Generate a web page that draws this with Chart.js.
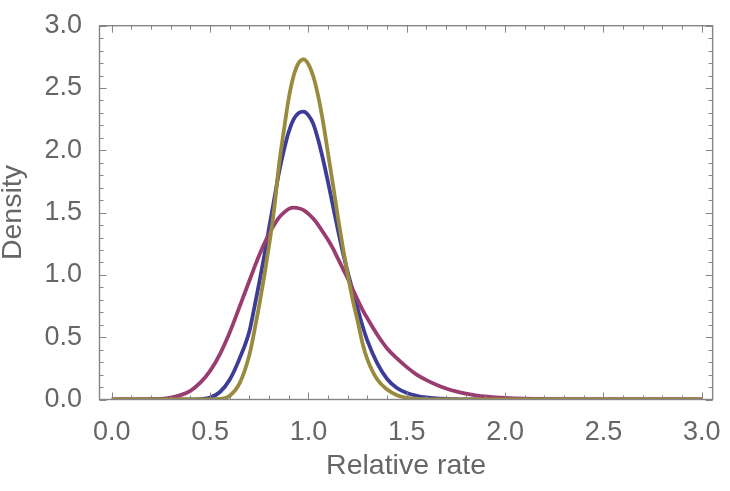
<!DOCTYPE html>
<html>
<head>
<meta charset="utf-8">
<script src="https://cdn.jsdelivr.net/npm/chart.js@4/dist/chart.umd.min.js"></script>
<style>
  html, body { margin: 0; padding: 0; background: #fff; }
  canvas { display: block; }
</style>
</head>
<body>
<canvas id="densityCanvas" width="730" height="491" style="width:730px;height:491px"></canvas>
<script>
const relativeRate = [
    0, 0.1, 0.2, 0.25, 0.3, 0.35, 0.4, 0.45, 0.5, 0.55, 0.6, 0.65,
    0.7, 0.725, 0.75, 0.775, 0.8, 0.825, 0.85, 0.875, 0.9, 0.925, 0.95, 0.975,
    1.0, 1.025, 1.05, 1.075, 1.1, 1.125, 1.15, 1.175, 1.2, 1.225, 1.25, 1.275,
    1.3, 1.35, 1.4, 1.45, 1.5, 1.55, 1.6, 1.65, 1.7, 1.75, 1.8, 1.85,
    1.9, 1.95, 2.0, 2.1, 2.2, 2.4, 2.6, 3.0
];

const blueDensity = [
    0, 0, 0, 0, 0, 0, 0, 0.003, 0.015, 0.06, 0.16, 0.33,
    0.55, 0.74, 0.94, 1.15, 1.38, 1.60, 1.82, 2.00, 2.15, 2.25, 2.30, 2.31,
    2.28, 2.21, 2.08, 1.92, 1.74, 1.55, 1.36, 1.18, 1.02, 0.87, 0.73, 0.59,
    0.47, 0.29, 0.165, 0.092, 0.052, 0.03, 0.016, 0.008, 0.004, 0.002, 0, 0,
    0, 0, 0, 0, 0, 0, 0, 0
];

const magentaDensity = [
    0, 0, 0.002, 0.005, 0.015, 0.035, 0.07, 0.135, 0.23, 0.365, 0.54, 0.745,
    0.955, 1.06, 1.16, 1.25, 1.33, 1.40, 1.46, 1.50, 1.53, 1.54, 1.535, 1.52,
    1.49, 1.45, 1.40, 1.34, 1.28, 1.21, 1.13, 1.05, 0.97, 0.885, 0.80, 0.72,
    0.65, 0.52, 0.41, 0.33, 0.26, 0.20, 0.155, 0.118, 0.088, 0.065, 0.047, 0.034,
    0.024, 0.017, 0.012, 0.006, 0.003, 0.001, 0, 0
];

const goldDensity = [
    0, 0, 0, 0, 0, 0, 0, 0, 0, 0.004, 0.03, 0.13,
    0.36, 0.55, 0.76, 0.99, 1.24, 1.52, 1.88, 2.16, 2.42, 2.60, 2.70, 2.73,
    2.69, 2.59, 2.43, 2.22, 1.97, 1.72, 1.46, 1.22, 1.00, 0.80, 0.63, 0.45,
    0.32, 0.16, 0.08, 0.035, 0.014, 0.005, 0.002, 0, 0, 0, 0, 0,
    0, 0, 0, 0, 0, 0, 0, 0
];

const xTickLabels = [0, 0.5, 1.0, 1.5, 2.0, 2.5, 3.0];
const yTickLabels = [0, 0.5, 1.0, 1.5, 2.0, 2.5, 3.0];

const TEXT_COLOR = '#666666';
const FRAME_COLOR = '#858585';
const FONT_FAMILY = "'Liberation Sans', Arial, sans-serif";
const LABEL_FONT = { family: FONT_FAMILY, size: 27 };
const TITLE_FONT = { family: FONT_FAMILY, size: 28.5, lineHeight: 1 };

function toPoints(values) {
    return relativeRate.map((x, i) => ({ x: x, y: values[i] }));
}

function makeDataset(label, values, color, order) {
    return {
        label: label,
        data: toPoints(values),
        showLine: true,
        borderColor: color,
        backgroundColor: color,
        borderWidth: 3.8,
        pointRadius: 0,
        cubicInterpolationMode: 'monotone',
        fill: false,
        order: order
    };
}

// frame with inward ticks on all four sides, like the original
const framePlugin = {
    id: 'frame',
    afterDatasetsDraw(chart) {
        const { ctx, chartArea: a, scales } = chart;
        const xs = scales.x, ys = scales.y;
        ctx.save();
        ctx.strokeStyle = FRAME_COLOR;
        ctx.lineWidth = 1.4;
        ctx.strokeRect(a.left, a.top, a.right - a.left, a.bottom - a.top);
        ctx.lineWidth = 1;
        ctx.beginPath();
        for (let i = 0; i <= 30; i++) {
            const v = i / 10;
            const len = i % 5 === 0 ? 7 : 4;
            const px = Math.round(xs.getPixelForValue(v)) + 0.5;
            ctx.moveTo(px, a.bottom); ctx.lineTo(px, a.bottom - len);
            ctx.moveTo(px, a.top); ctx.lineTo(px, a.top + len);
            const py = Math.round(ys.getPixelForValue(v)) + 0.5;
            ctx.moveTo(a.left, py); ctx.lineTo(a.left + len, py);
            ctx.moveTo(a.right, py); ctx.lineTo(a.right - len, py);
        }
        ctx.stroke();
        ctx.restore();
    }
};

const ctx = document.getElementById('densityCanvas').getContext('2d');

new Chart(ctx, {
    type: 'scatter',
    data: {
        datasets: [
            makeDataset('Blue', blueDensity, '#3d3d99', 2),
            makeDataset('Magenta', magentaDensity, '#993d71', 1),
            makeDataset('Gold', goldDensity, '#998b3d', 0)
        ]
    },
    options: {
        responsive: false,
        animation: false,
        layout: { padding: { top: 14, right: 7, left: 0, bottom: 0 } },
        plugins: { legend: { display: false }, tooltip: { enabled: false } },
        scales: {
            x: {
                type: 'linear',
                min: -0.0625,
                max: 3.055,
                grid: { display: false },
                border: { display: false },
                afterBuildTicks: s => { s.ticks = xTickLabels.map(v => ({ value: v })); },
                afterFit: s => { s.height = 91.5; },
                ticks: {
                    color: TEXT_COLOR,
                    font: LABEL_FONT,
                    padding: 9.3,
                    maxRotation: 0,
                    autoSkip: false,
                    callback: v => Number(v).toFixed(1)
                },
                title: {
                    display: true,
                    text: 'Relative rate',
                    color: TEXT_COLOR,
                    font: TITLE_FONT,
                    padding: { top: 0, bottom: 10.5 }
                }
            },
            y: {
                type: 'linear',
                min: 0,
                max: 3.0,
                grid: { display: false },
                border: { display: false },
                afterBuildTicks: s => { s.ticks = yTickLabels.map(v => ({ value: v })); },
                afterFit: s => { s.width = 99.5; },
                ticks: {
                    color: TEXT_COLOR,
                    font: LABEL_FONT,
                    padding: 9.5,
                    autoSkip: false,
                    callback: v => Number(v).toFixed(1)
                },
                title: {
                    display: true,
                    text: 'Density',
                    color: TEXT_COLOR,
                    font: TITLE_FONT,
                    padding: { top: -1, bottom: 0 }
                }
            }
        }
    },
    plugins: [framePlugin]
});
</script>
</body>
</html>
